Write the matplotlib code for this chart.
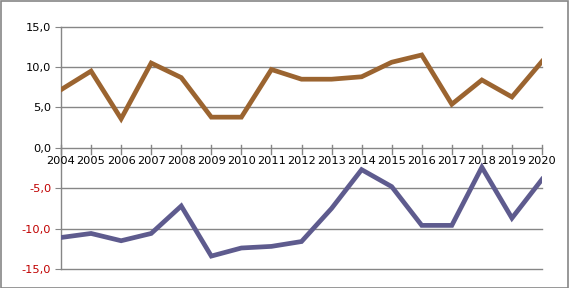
import matplotlib
matplotlib.use("Agg")
import matplotlib.pyplot as plt
from matplotlib.patches import Rectangle

years = list(range(2004, 2021))
series_pos = [7.2, 9.5, 3.6, 10.5, 8.7, 3.8, 3.8, 9.7, 8.5, 8.5, 8.8, 10.6, 11.5, 5.4, 8.4, 6.3, 10.7]
series_neg = [-11.1, -10.6, -11.5, -10.6, -7.2, -13.4, -12.4, -12.2, -11.6, -7.5, -2.7, -4.8, -9.6, -9.6, -2.4, -8.7, -3.9]
yticks = [-15, -10, -5, 0, 5, 10, 15]
ytick_labels = ["-15,0", "-10,0", "-5,0", "0,0", "5,0", "10,0", "15,0"]

W, H = 569, 288
fig = plt.figure(figsize=(W / 100, H / 100), dpi=100)
fig.patch.set_facecolor("white")
fig.patches.append(Rectangle((0.5 / W, 0.5 / H), 1 - 1.5 / W, 1 - 1.5 / H, transform=fig.transFigure,
                             fill=False, edgecolor="#868686", linewidth=1.2))

left, right = 61, 542
top, bottom = 26.7, 269
ax = fig.add_axes([left / W, 1 - bottom / H, (right - left) / W, (bottom - top) / H])
ax.set_xlim(years[0], years[-1])
ax.set_ylim(-15, 15)

for v in yticks:
    ax.axhline(v, color="#868686", linewidth=1.0, zorder=1, clip_on=False)

ax.plot(years, series_pos, color="#9B6430", linewidth=3.4, solid_joinstyle="miter", zorder=3)
ax.plot(years, series_neg, color="#5E5B8E", linewidth=3.4, solid_joinstyle="miter", zorder=3)

for s in ["top", "right", "bottom"]:
    ax.spines[s].set_visible(False)
ax.spines["left"].set_color("#868686")
ax.spines["left"].set_linewidth(1.0)

ax.set_yticks(yticks)
ax.set_yticklabels(ytick_labels, fontsize=8.2, family="DejaVu Sans")
for lbl, v in zip(ax.get_yticklabels(), yticks):
    lbl.set_color("#C00000" if v < 0 else "black")
ax.tick_params(axis="y", length=4, color="#868686", pad=3)

ax.set_xticks(years)
ax.set_xticklabels([])
ax.tick_params(axis="x", length=0)
for x in years:
    ax.plot([x, x], [0.3, -0.75], color="#868686", linewidth=1.0, zorder=2, clip_on=False)
    ax.text(x, -1.0, str(x), ha="center", va="top", fontsize=8.2, color="black", family="DejaVu Sans")

fig.savefig("out.png", dpi=100, facecolor="white")
